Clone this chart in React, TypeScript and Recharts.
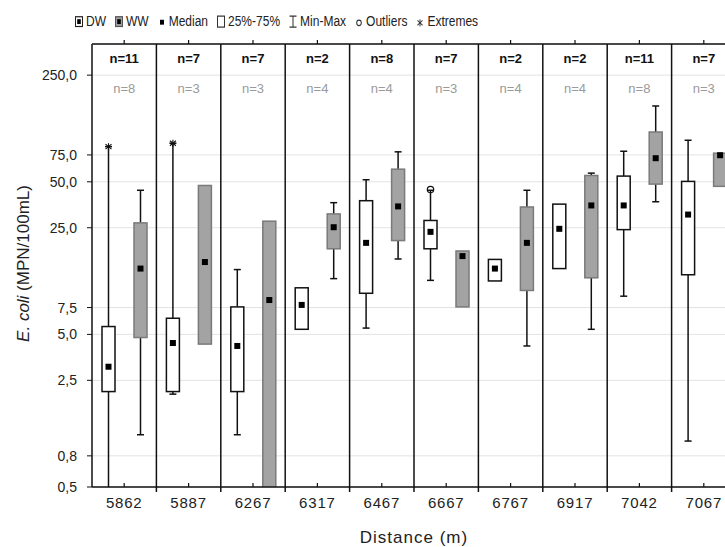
import { ComposedChart, Bar, XAxis, YAxis, CartesianGrid, ReferenceLine } from "recharts";

// distance along the river (m)
const categories = ["5862", "5887", "6267", "6317", "6467", "6667", "6767", "6917", "7042", "7067"];

// sample counts
const dwN = [11, 7, 7, 2, 8, 7, 2, 2, 11, 7];
const wwN = [8, 3, 3, 4, 4, 3, 4, 4, 8, 3];

// DW box plot stats (MPN/100mL)
const dwMin = [0.3, 2.03, 1.1, 5.4, 5.5, 11.3, 11.2, 13.5, 8.9, 1.0];
const dwQ1 = [2.11, 2.11, 2.11, 5.4, 9.3, 18.2, 11.2, 13.5, 24.3, 12.3];
const dwMedian = [3.07, 4.39, 4.2, 7.8, 19.9, 23.5, 13.5, 24.6, 35, 30.5];
const dwQ3 = [5.63, 6.38, 7.57, 10.1, 37.6, 27.9, 15.5, 35.7, 54.5, 50.3];
const dwMax = [85, 89.5, 13.3, 10.1, 51.6, 44, 15.5, 35.7, 79.3, 93.6];
const dwOutliers: number[][] = [[], [], [], [], [], [44.5], [], [], [], []];
const dwExtremes: number[][] = [[85], [89.5], [], [], [], [], [], [], [], []];

// WW box plot stats (MPN/100mL)
const wwMin = [1.1, 4.32, 0.3, 11.6, 15.6, 7.57, 4.2, 5.4, 37, 46.7];
const wwQ1 = [4.77, 4.32, 0.3, 18.2, 20.6, 7.57, 9.7, 11.75, 48.3, 46.7];
const wwMedian = [13.5, 14.9, 8.4, 25.2, 34.5, 16.3, 19.9, 35, 71.4, 74.7];
const wwQ3 = [26.9, 47.3, 27.6, 30.8, 60.5, 17.6, 34.2, 55, 106, 77];
const wwMax = [44, 47.3, 27.6, 36.5, 78.6, 17.6, 44, 57, 157, 77];
const wwOutliers: number[][] = [[], [], [], [], [], [], [], [], [], []];
const wwExtremes: number[][] = [[], [], [], [], [], [], [], [], [], []];

const yTicks = [0.5, 0.8, 2.5, 5, 7.5, 25, 50, 75, 250];

const data = categories.map((name, i) => ({
  name,
  dwN: dwN[i],
  wwN: wwN[i],
  dw: [dwMin[i], dwMax[i]],
  ww: [wwMin[i], wwMax[i]],
  dwStats: { min: dwMin[i], q1: dwQ1[i], median: dwMedian[i], q3: dwQ3[i], max: dwMax[i], outliers: dwOutliers[i], extremes: dwExtremes[i] },
  wwStats: { min: wwMin[i], q1: wwQ1[i], median: wwMedian[i], q3: wwQ3[i], max: wwMax[i], outliers: wwOutliers[i], extremes: wwExtremes[i] },
}));

const INK = "#111";

// the bar covers [min, max]; positions inside it come from the same log scale
const boxShape = (key: "dwStats" | "wwStats", fill: string, stroke: string) => (props: any) => {
  const { x, y, width, height, payload } = props;
  const s = payload[key];
  const top = Math.min(y, y + height);
  const bottom = Math.max(y, y + height);
  const lHi = Math.log(s.max);
  const lLo = Math.log(s.min);
  const span = lHi - lLo || 1;
  const toY = (v: number) => top + ((lHi - Math.log(v)) / span) * (bottom - top);
  const cx = x + width / 2;
  const cap = 3.5;
  const q1y = toY(s.q1);
  const q3y = toY(s.q3);
  const my = toY(s.median);
  return (
    <g>
      {s.max > s.q3 && (
        <g stroke={INK} strokeWidth={1.5}>
          <line x1={cx} x2={cx} y1={toY(s.max)} y2={q3y} />
          <line x1={cx - cap} x2={cx + cap} y1={toY(s.max)} y2={toY(s.max)} />
        </g>
      )}
      {s.min < s.q1 && (
        <g stroke={INK} strokeWidth={1.5}>
          <line x1={cx} x2={cx} y1={q1y} y2={toY(s.min)} />
          <line x1={cx - cap} x2={cx + cap} y1={toY(s.min)} y2={toY(s.min)} />
        </g>
      )}
      <rect x={x} y={q3y} width={width} height={q1y - q3y} fill={fill} stroke={stroke} strokeWidth={1.5} />
      <rect x={cx - 3} y={my - 3} width={6} height={6} fill="#000" />
      {s.outliers.map((v: number, i: number) => (
        <circle key={"o" + i} cx={cx} cy={toY(v)} r={3.2} fill="none" stroke={INK} strokeWidth={1.2} />
      ))}
      {s.extremes.map((v: number, i: number) => {
        const ey = toY(v);
        return (
          <g key={"e" + i} stroke={INK} strokeWidth={1.1}>
            <line x1={cx} x2={cx} y1={ey - 3.5} y2={ey + 3.5} />
            <line x1={cx - 3} x2={cx + 3} y1={ey - 2.5} y2={ey + 2.5} />
            <line x1={cx - 3} x2={cx + 3} y1={ey + 2.5} y2={ey - 2.5} />
          </g>
        );
      })}
    </g>
  );
};

function TopTick(props: any) {
  const { x, y, payload } = props;
  const row = data.find((d) => d.name === payload.value);
  if (!row) return null;
  return (
    <g>
      <line x1={x} x2={x} y1={y} y2={y - 4} stroke={INK} strokeWidth={1.2} />
      <text x={x} y={y + 19} textAnchor="middle" fontSize={13} fontWeight="bold" fill="#111">
        n={row.dwN}
      </text>
      <text x={x} y={y + 49} textAnchor="middle" fontSize={13} fill="#9a9a9a">
        n={row.wwN}
      </text>
    </g>
  );
}

function BottomTick(props: any) {
  const { x, y, payload } = props;
  return (
    <g>
      <line x1={x} x2={x} y1={y} y2={y - 4} stroke={INK} strokeWidth={1.2} />
      <text x={x} y={y + 21} textAnchor="middle" fontSize={15} letterSpacing={0.8} fill="#222">
        {payload.value}
      </text>
    </g>
  );
}

function YTitle(props: any) {
  const vb = props.viewBox || { x: 0, y: 44, width: 92, height: 443 };
  const cx = vb.x + 23;
  const cy = vb.y + vb.height / 2 - 2;
  return (
    <text x={cx} y={cy} transform={`rotate(-90, ${cx}, ${cy})`} textAnchor="middle" dominantBaseline="central" fontSize={17} fill="#222">
      <tspan fontStyle="italic">E. coli</tspan> (MPN/100mL)
    </text>
  );
}

function XTitle(props: any) {
  const vb = props.viewBox || { x: 92, y: 487, width: 644, height: 30 };
  return (
    <text x={vb.x + vb.width / 2} y={vb.y + 56} textAnchor="middle" fontSize={17} letterSpacing={1} fill="#222">
      Distance (m)
    </text>
  );
}

const legendItems = [
  { label: "DW", kind: "dw" },
  { label: "WW", kind: "ww" },
  { label: "Median", kind: "median" },
  { label: "25%-75%", kind: "box" },
  { label: "Min-Max", kind: "range" },
  { label: "Outliers", kind: "outlier" },
  { label: "Extremes", kind: "extreme" },
];

function LegendIcon({ kind }: { kind: string }) {
  return (
    <svg width={8} height={11} style={{ marginRight: 3 }}>
      {kind === "dw" && <><rect x={0.5} y={1.5} width={7} height={8} fill="#fff" stroke="#222" strokeWidth={1} /><rect x={2.2} y={3.5} width={3.6} height={4} fill="#000" /></>}
      {kind === "ww" && <><rect x={0.5} y={1.5} width={7} height={8} fill="#a0a0a0" stroke="#555" strokeWidth={1} /><rect x={2.2} y={3.5} width={3.6} height={4} fill="#000" /></>}
      {kind === "median" && <rect x={2} y={4} width={4} height={4} fill="#000" />}
      {kind === "box" && <rect x={0.5} y={1} width={7} height={9} fill="#fff" stroke="#333" strokeWidth={1} />}
      {kind === "range" && (
        <g stroke="#333" strokeWidth={1}>
          <line x1={4} x2={4} y1={1} y2={10} />
          <line x1={0.5} x2={7.5} y1={1} y2={1} />
          <line x1={0.5} x2={7.5} y1={10} y2={10} />
        </g>
      )}
      {kind === "outlier" && <circle cx={4} cy={6.5} r={2.3} fill="none" stroke="#333" strokeWidth={1} />}
      {kind === "extreme" && (
        <g stroke="#333" strokeWidth={0.9}>
          <line x1={4} x2={4} y1={3.5} y2={9.5} />
          <line x1={1.5} x2={6.5} y1={4.5} y2={8.5} />
          <line x1={1.5} x2={6.5} y1={8.5} y2={4.5} />
        </g>
      )}
    </svg>
  );
}

export default function App() {
  return (
    <div
      style={{
        position: "absolute",
        left: 0,
        top: 0,
        width: 725,
        height: 547,
        overflow: "hidden",
        background: "#fff",
        fontFamily: '"Liberation Sans", Arial, sans-serif',
      }}
    >
      <div
        style={{
          position: "absolute",
          left: 75,
          top: 14,
          display: "flex",
          alignItems: "center",
          fontSize: 12,
          color: "#222",
          whiteSpace: "nowrap",
          transform: "scaleY(1.22)",
          transformOrigin: "0 50%",
        }}
      >
        {legendItems.map((it) => (
          <span key={it.label} style={{ display: "flex", alignItems: "center", marginRight: 9 }}>
            <LegendIcon kind={it.kind} />
            {it.label}
          </span>
        ))}
      </div>
      <ComposedChart
        width={760}
        height={547}
        data={data}
        margin={{ top: 14, right: 24, bottom: 30, left: 0 }}
        barSize={13}
        barGap={19}
      >
        <CartesianGrid vertical={false} stroke="#e3e3e3" xAxisId="bottom" yAxisId="y" />
        <XAxis
          xAxisId="top"
          orientation="top"
          dataKey="name"
          height={30}
          interval={0}
          tickSize={0}
          tickMargin={0}
          tickLine={false}
          tick={<TopTick />}
          axisLine={{ stroke: INK, strokeWidth: 1.5 }}
        />
        <XAxis
          xAxisId="bottom"
          dataKey="name"
          height={30}
          interval={0}
          tickSize={0}
          tickMargin={0}
          tickLine={false}
          tick={<BottomTick />}
          axisLine={{ stroke: INK, strokeWidth: 1.5 }}
          label={{ content: (p: any) => <XTitle {...p} /> }}
        />
        <YAxis
          yAxisId="y"
          type="number"
          scale="log"
          domain={[0.5, 400]}
          allowDataOverflow
          ticks={yTicks}
          interval={0}
          width={92}
          tickSize={5}
          tickMargin={10}
          tickFormatter={(v: number) => v.toFixed(1).replace(".", ",")}
          tick={{ fontSize: 14, fill: "#222" }}
          tickLine={{ stroke: INK }}
          axisLine={{ stroke: INK, strokeWidth: 1.5 }}
          label={{ content: (p: any) => <YTitle {...p} /> }}
        />
        {categories.slice(0, -1).map((c) => (
          <ReferenceLine
            key={c}
            xAxisId="bottom"
            yAxisId="y"
            x={c}
            position="end"
            shape={(p: any) => (
              <line
                x1={p.x1}
                x2={p.x2}
                y1={Math.min(p.y1, p.y2)}
                y2={Math.max(p.y1, p.y2) + 5}
                stroke={INK}
                strokeWidth={1.5}
              />
            )}
          />
        ))}
        <Bar xAxisId="bottom" yAxisId="y" dataKey="dw" shape={boxShape("dwStats", "#fff", INK)} isAnimationActive={false} />
        <Bar xAxisId="bottom" yAxisId="y" dataKey="ww" shape={boxShape("wwStats", "#a3a3a3", "#7a7a7a")} isAnimationActive={false} />
      </ComposedChart>
    </div>
  );
}
